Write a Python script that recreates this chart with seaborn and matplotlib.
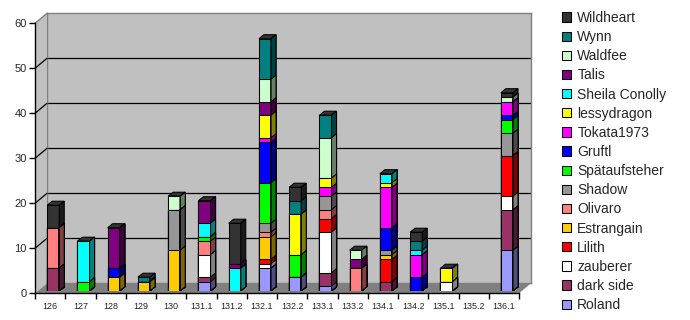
import numpy as np
import pandas as pd
import matplotlib
matplotlib.use("Agg")
import matplotlib.pyplot as plt
import seaborn as sns
from matplotlib.patches import Polygon, Patch
from matplotlib.lines import Line2D

# ---------------- data ----------------
categories = ["126", "127", "128", "129", "130", "131.1", "131.2", "132.1",
              "132.2", "133.1", "133.2", "134.1", "134.2", "135.1", "135.2", "136.1"]

# stacking order: bottom -> top
series_names = ["Roland", "dark side", "zauberer", "Lilith", "Estrangain", "Olivaro",
                "Shadow", "Spätaufsteher", "Gruftl", "Tokata1973", "lessydragon",
                "Sheila Conolly", "Talis", "Waldfee", "Wynn", "Wildheart"]

#                 126 127 128 129 130 31.1 31.2 32.1 32.2 33.1 33.2 34.1 34.2 35.1 35.2 36.1
roland        = [0, 0, 0, 0, 0, 2, 0, 5, 3, 1, 0, 0, 0, 0, 0, 9]
dark_side     = [5, 0, 0, 0, 0, 1, 0, 0, 0, 3, 0, 2, 0, 0, 0, 9]
zauberer      = [0, 0, 0, 0, 0, 5, 0, 1, 0, 9, 0, 0, 0, 2, 0, 3]
lilith        = [0, 0, 0, 0, 0, 0, 0, 1, 0, 3, 0, 5, 0, 0, 0, 9]
estrangain    = [0, 0, 3, 2, 9, 0, 0, 5, 0, 0, 0, 1, 0, 0, 0, 0]
olivaro       = [9, 0, 0, 0, 0, 3, 0, 1, 0, 2, 5, 0, 0, 0, 0, 0]
shadow        = [0, 0, 0, 0, 9, 0, 0, 2, 0, 3, 0, 1, 0, 0, 0, 5]
spaetauf      = [0, 2, 0, 0, 0, 1, 0, 9, 5, 0, 0, 0, 0, 0, 0, 3]
gruftl        = [0, 0, 2, 0, 0, 0, 0, 9, 0, 0, 0, 5, 3, 0, 0, 1]
tokata        = [0, 0, 0, 0, 0, 0, 0, 1, 0, 2, 0, 9, 5, 0, 0, 3]
lessydragon   = [0, 0, 0, 0, 0, 0, 0, 5, 9, 2, 0, 1, 0, 3, 0, 0]
sheila        = [0, 9, 0, 0, 0, 3, 5, 0, 0, 0, 0, 2, 1, 0, 0, 0]
talis         = [0, 0, 9, 0, 0, 5, 1, 3, 0, 0, 2, 0, 0, 0, 0, 0]
waldfee       = [0, 0, 0, 0, 3, 0, 0, 5, 0, 9, 2, 0, 0, 0, 0, 1]
wynn          = [0, 0, 0, 1, 0, 0, 0, 9, 3, 5, 0, 0, 2, 0, 0, 0]
wildheart     = [5, 0, 0, 0, 0, 0, 9, 0, 3, 0, 0, 0, 2, 0, 0, 1]

series_values = [roland, dark_side, zauberer, lilith, estrangain, olivaro, shadow,
                 spaetauf, gruftl, tokata, lessydragon, sheila, talis, waldfee,
                 wynn, wildheart]

series_colors = ["#9999FF", "#993366", "#FFFFFF", "#FF0000", "#FFCC00", "#FF8080",
                 "#969696", "#00FF00", "#0000FF", "#FF00FF", "#FFFF00", "#00FFFF",
                 "#800080", "#CCFFCC", "#008080", "#333333"]

y_ticks = [0, 10, 20, 30, 40, 50, 60]

# ---------------- geometry (pixels) ----------------
W, H = 690, 320
FX0, FX1 = 35.0, 519.0        # front x axis extent
FY0 = 293.3                   # front plane: pixel row of value 0
PPU = 4.5                     # pixels per unit
SPAN = 60 * PPU
DEP = (12.0, 10.0)            # front->back oblique offset (right, up)
BOFF = (3.1, 2.6)             # front->bar plane offset
BAR_DEPTH = (5.0, 4.0)        # bar side/top depth in pixels

def rect(x0, y_top, x1, y_bot):
    return [x0 / W, 1 - y_bot / H, (x1 - x0) / W, (y_bot - y_top) / H]

sns.set_theme(style="white")
plt.rcParams["font.family"] = ["Liberation Sans", "DejaVu Sans"]

fig = plt.figure(figsize=(W / 100, H / 100), dpi=100)

# ---- back wall ----
axw = fig.add_axes(rect(FX0 + DEP[0], FY0 - DEP[1] - SPAN, FX1 + DEP[0], FY0 - DEP[1]), zorder=0)
axw.set_facecolor("#C0C0C0")
axw.set_ylim(0, 60)
axw.set_xlim(0, 1)
for v in y_ticks[1:-1]:
    axw.axhline(v, color="black", lw=0.9)
for s in axw.spines.values():
    s.set_color("#808080")
    s.set_linewidth(1.0)
axw.set_xticks([])
axw.set_yticks([])

# ---- side wall + floor (frame geometry in pixel space) ----
axg = fig.add_axes([0, 0, 1, 1], zorder=1)
axg.set_xlim(0, W)
axg.set_ylim(H, 0)
axg.axis("off")
axg.patch.set_alpha(0)
side = Polygon([(FX0, FY0), (FX0, FY0 - SPAN), (FX0 + DEP[0], FY0 - SPAN - DEP[1]),
                (FX0 + DEP[0], FY0 - DEP[1])], closed=True, facecolor="#C0C0C0",
               edgecolor="none")
axg.add_patch(side)
axg.add_line(Line2D([FX0, FX0 + DEP[0]], [FY0 - SPAN, FY0 - SPAN - DEP[1]], color="#808080", lw=1))
for v in y_ticks[1:-1]:
    yf = FY0 - PPU * v
    axg.add_line(Line2D([FX0, FX0 + DEP[0]], [yf, yf - DEP[1]], color="black", lw=0.9))
floor = Polygon([(FX0, FY0), (FX1, FY0), (FX1 + DEP[0], FY0 - DEP[1]), (FX0 + DEP[0], FY0 - DEP[1])],
                closed=True, facecolor="#808080", edgecolor="none")
axg.add_patch(floor)

# ---- front axis ----
axf = fig.add_axes(rect(FX0, FY0 - SPAN, FX1, FY0), zorder=2)
axf.patch.set_alpha(0)
axf.set_ylim(0, 60)
axf.set_xlim(-0.5, len(categories) - 0.5)
for k in ["top", "right"]:
    axf.spines[k].set_visible(False)
for k in ["left", "bottom"]:
    axf.spines[k].set_color("black")
    axf.spines[k].set_linewidth(1.0)
axf.set_yticks(y_ticks)
axf.set_yticklabels([str(v) for v in y_ticks], fontsize=8)
axf.set_xticks(np.arange(len(categories) + 1) - 0.5)
axf.set_xticklabels([])
axf.set_xticks(np.arange(len(categories)), minor=True)
axf.set_xticklabels(categories, minor=True, fontsize=6.5)
axf.tick_params(axis="y", direction="out", length=4, width=1, color="black", pad=2, left=True)
axf.tick_params(axis="x", which="major", direction="out", length=4, width=1, color="black", bottom=True)
axf.tick_params(axis="x", which="minor", length=0, pad=6, bottom=True)

# ---- bars ----
axb = fig.add_axes(rect(FX0 + BOFF[0], FY0 - BOFF[1] - SPAN, FX1 + BOFF[0], FY0 - BOFF[1]), zorder=3)
axb.patch.set_alpha(0)

cum = np.cumsum(np.array(series_values, dtype=float), axis=0)
layers = []
for i in range(len(series_names) - 1, -1, -1):
    n0 = len(axb.patches)
    df = pd.DataFrame({"cat": categories, "val": cum[i]})
    sns.barplot(data=df, x="cat", y="val", order=categories, color=series_colors[i],
                saturation=1, width=0.4, edgecolor="black", linewidth=0.75,
                errorbar=None, ax=axb)
    layers.append((i, list(axb.patches[n0:])))

axb.set_xlim(-0.5, len(categories) - 0.5)
axb.set_ylim(0, 60)
axb.axis("off")

fig.canvas.draw()
p0 = axb.transData.transform((0, 0))
ddx, ddy = axb.transData.inverted().transform(p0 + np.array(BAR_DEPTH)) - np.array([0, 0])

def darker(c, f=0.5):
    r, g, b = matplotlib.colors.to_rgb(c)
    return (r * f, g * f, b * f)

for j, (i, patches) in enumerate(layers):
    for p in patches:
        h = p.get_height()
        if h <= 0:
            p.set_visible(False)
            continue
        x0 = p.get_x()
        x1 = x0 + p.get_width()
        sp = Polygon([(x1, 0), (x1 + ddx, ddy), (x1 + ddx, h + ddy), (x1, h)], closed=True,
                     facecolor=darker(series_colors[i]), edgecolor="black", lw=0.75,
                     zorder=1 + 0.01 * j)
        axb.add_patch(sp)
        if j == 0:
            tp = Polygon([(x0, h), (x1, h), (x1 + ddx, h + ddy), (x0 + ddx, h + ddy)], closed=True,
                         facecolor=series_colors[i], edgecolor="black", lw=0.75, zorder=0.9)
            axb.add_patch(tp)

# ---- legend ----
handles = [Patch(facecolor=series_colors[i], edgecolor="black", linewidth=0.75)
           for i in range(len(series_names) - 1, -1, -1)]
labels = [series_names[i] for i in range(len(series_names) - 1, -1, -1)]
fig.legend(handles, labels, loc="upper left", bbox_to_anchor=(562 / W, 1 - 11 / H),
           frameon=False, fontsize=10, handlelength=0.65, handleheight=0.65,
           handletextpad=0.45, labelspacing=0.37, borderpad=0, borderaxespad=0)

fig.savefig("out.png", dpi=100)
